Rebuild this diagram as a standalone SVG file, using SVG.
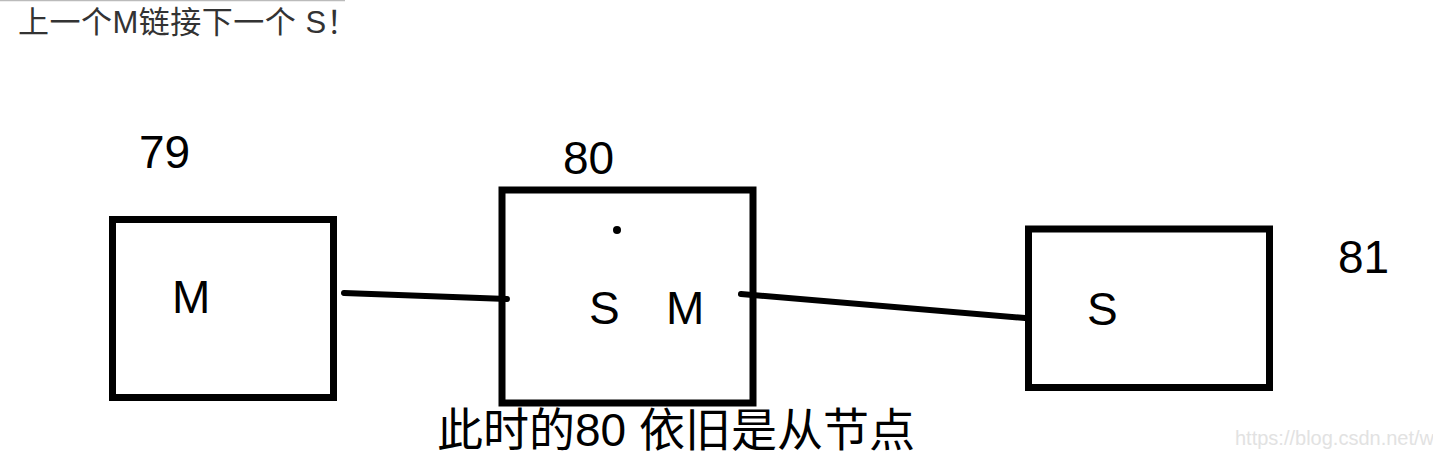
<svg xmlns="http://www.w3.org/2000/svg" width="1433" height="454" viewBox="0 0 1433 454">
<style>
.box{fill:none;stroke:#000;stroke-width:7}
.lbl{font-family:"Liberation Sans","Noto Sans CJK SC",sans-serif;fill:#000}
.num{font-size:46px}
.in{font-size:46px}
.conn{stroke:#000;stroke-width:6;stroke-linecap:round;fill:none}
</style>
<rect width="1433" height="454" fill="#fff"/>
<line x1="0" y1="0.5" x2="345" y2="0.5" stroke="#bbb" stroke-width="1.5"/>
<text x="18" y="33" font-family="'Liberation Sans','Noto Sans CJK SC',sans-serif" font-size="31" letter-spacing="0.5" fill="#333">上一个M链接下一个 S！</text>
<g id="node79">
<rect class="box" x="112.5" y="219.5" width="221" height="178"/>
<text class="lbl num" x="139" y="168">79</text>
<text class="lbl in" x="172" y="313">M</text>
</g>
<g id="node80">
<rect class="box" x="502" y="190" width="251" height="213"/>
<text class="lbl num" x="563" y="174">80</text>
<circle cx="617" cy="230" r="4" fill="#000"/>
<text class="lbl in" x="589" y="324">S</text>
<text class="lbl in" x="666" y="324">M</text>
</g>
<g id="node81">
<rect class="box" x="1028.5" y="229" width="241" height="158.5"/>
<text class="lbl num" x="1338" y="273">81</text>
<text class="lbl in" x="1087" y="325">S</text>
</g>
<g id="connectors">
<line class="conn" x1="344" y1="293" x2="507" y2="299"/>
<line class="conn" x1="741" y1="294" x2="1025" y2="318"/>
</g>
<text x="437" y="446" font-family="'Liberation Sans','Noto Sans CJK SC',sans-serif" font-size="46" fill="#000">此时的80 依旧是从节点</text>
<text x="1235" y="445" font-family="'Liberation Sans',sans-serif" font-size="20" fill="#e2e2e2">https://blog.csdn.net/w</text>
</svg>
